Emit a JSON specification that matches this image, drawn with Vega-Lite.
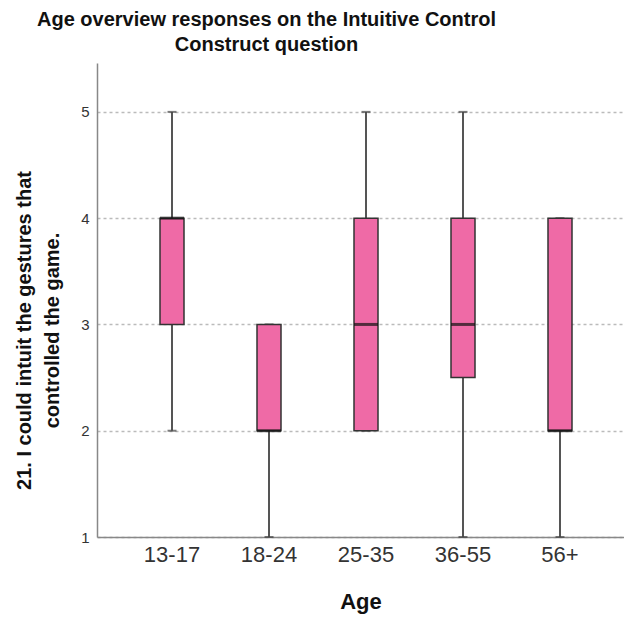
{
  "$schema": "https://vega.github.io/schema/vega-lite/v6.json",
  "width": 527,
  "height": 474,
  "autosize": {"type": "none"},
  "padding": {"left": 97, "top": 63, "right": 0, "bottom": 84},
  "background": "white",
  "title": {
    "text": ["Age overview responses on the Intuitive Control", "Construct question"],
    "font": "Liberation Sans",
    "fontSize": 20,
    "fontWeight": "bold",
    "color": "#111111",
    "anchor": "middle",
    "dx": -94,
    "offset": 8,
    "lineHeight": 25
  },
  "config": {
    "view": {"stroke": null},
    "axis": {"labelFont": "Liberation Sans", "titleFont": "Liberation Sans"}
  },
  "data": {
    "values": [
      {"age": "13-17", "min": 2, "q1": 3, "median": 4, "q3": 4, "max": 5},
      {"age": "18-24", "min": 1, "q1": 2, "median": 2, "q3": 3, "max": 3},
      {"age": "25-35", "min": 2, "q1": 2, "median": 3, "q3": 4, "max": 5},
      {"age": "36-55", "min": 1, "q1": 2.5, "median": 3, "q3": 4, "max": 5},
      {"age": "56+", "min": 1, "q1": 2, "median": 2, "q3": 4, "max": 4}
    ]
  },
  "encoding": {
    "x": {
      "field": "age",
      "type": "nominal",
      "sort": ["13-17", "18-24", "25-35", "36-55", "56+"],
      "scale": {"paddingInner": 0, "paddingOuter": 0.2165, "align": 0.631},
      "axis": {
        "title": "Age",
        "titleFontSize": 22,
        "titleFontWeight": "bold",
        "titleColor": "#111111",
        "titlePadding": 26,
        "labelFontSize": 22,
        "labelColor": "#333333",
        "labelAngle": 0,
        "labelPadding": 7,
        "ticks": false,
        "domainColor": "#888888",
        "domainWidth": 1.5,
        "grid": false
      }
    }
  },
  "layer": [
    {
      "mark": {"type": "rule", "color": "#555555", "strokeWidth": 2},
      "encoding": {
        "y": {
          "field": "min",
          "type": "quantitative",
          "scale": {"domain": [1, 5.46], "nice": false, "zero": false},
          "axis": {
            "title": ["21. I could intuit the gestures that", "controlled the game."],
            "titleFontSize": 20,
            "titleFontWeight": "bold",
            "titleColor": "#111111",
            "titleAngle": -90,
            "titleX": -73,
            "titleY": 267,
            "titleAlign": "center",
            "titleBaseline": "middle",
            "titleLineHeight": 28,
            "values": [1, 2, 3, 4, 5],
            "format": "d",
            "labelFontSize": 15,
            "labelColor": "#333333",
            "labelPadding": 8,
            "ticks": false,
            "domainColor": "#888888",
            "domainWidth": 1.5,
            "grid": true,
            "gridColor": "#bbbbbb",
            "gridDash": [3, 3],
            "gridWidth": 1.5
          }
        },
        "y2": {"field": "max"}
      }
    },
    {
      "mark": {"type": "tick", "color": "#444444", "size": 9, "thickness": 2},
      "encoding": {"y": {"field": "min", "type": "quantitative"}}
    },
    {
      "mark": {"type": "tick", "color": "#444444", "size": 9, "thickness": 2},
      "encoding": {"y": {"field": "max", "type": "quantitative"}}
    },
    {
      "mark": {"type": "bar", "size": 24, "fill": "#ef6aa6", "stroke": "#333333", "strokeWidth": 1.5},
      "encoding": {
        "y": {"field": "q1", "type": "quantitative"},
        "y2": {"field": "q3"}
      }
    },
    {
      "mark": {"type": "tick", "color": "#111111", "size": 24, "thickness": 3},
      "encoding": {"y": {"field": "median", "type": "quantitative"}}
    }
  ]
}
